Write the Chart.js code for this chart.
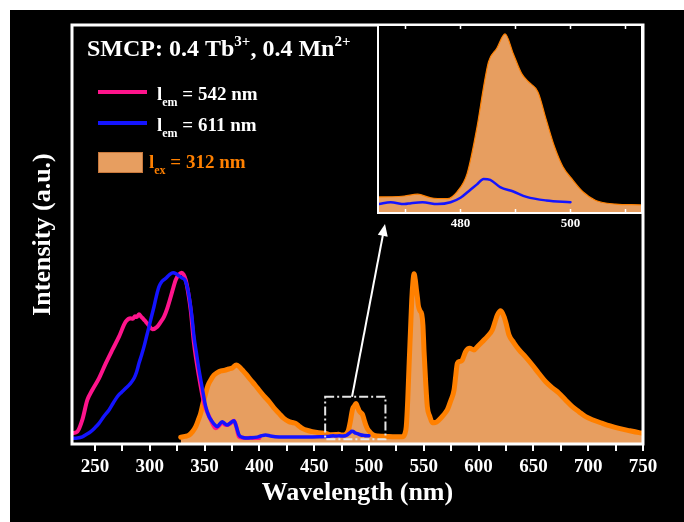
<!DOCTYPE html>
<html>
<head>
<meta charset="utf-8">
<script src="https://cdn.jsdelivr.net/npm/chart.js@4"></script>
<style>
html, body { margin: 0; padding: 0; background: #fff; }
#wrap { position: relative; width: 684px; height: 522px; overflow: hidden; }
#bg { position: absolute; left: 10px; top: 10px; right: 0; bottom: 0; background: #000; }
#main { position: absolute; left: 0; top: 0; }
#inset { position: absolute; left: 360px; top: 10px; }
</style>
</head>
<body>
<div id="wrap">
  <div id="bg"></div>
  <canvas id="main" width="684" height="522"></canvas>
  <canvas id="inset" width="300" height="232"></canvas>
</div>
<script>
// excitation spectrum monitored at 542 nm
var excWavelength542 = [
  229.3, 233.9, 238.4, 243, 247.5, 253.6, 259.8, 265.8, 271.9, 278,
  282.6, 284.5, 286.5, 288, 290.1, 292, 294, 296.3, 299, 302.3,
  306.8, 310, 313, 316, 319.1, 321.5, 323.6, 326.5, 329.1, 330.8,
  332.8, 335, 337.3, 340.3, 344.9, 349.5, 355.6, 360.1, 363, 366.1,
  368.5, 370.7, 373, 376.8, 378.5, 381.4, 384, 387.5, 392, 396, 400
];
var exc542 = [
  .062, .072, .140, .256, .314, .382, .469, .547, .624, .711,
  .731, .728, .742, .738, .755, .740, .728, .711, .690, .667,
  .682, .710, .740, .790, .856, .910, .953, .985, .996, .985,
  .953, .880, .779, .585, .391, .237, .140, .091, .105, .124,
  .112, .110, .118, .135, .110, .042, .037, .035, .036, .035, .035
];

// excitation spectrum monitored at 611 nm
var excWavelength611 = [
  229.3, 234, 238.4, 242, 246.1, 250, 253.6, 258, 262.8, 266.5,
  270.3, 274, 278, 282, 285.6, 288, 290.1, 292.5, 294.7, 297,
  299.3, 301.5, 303.8, 306, 308.4, 311, 314.5, 318, 321.2, 324,
  326.6, 329.5, 332.1, 334.5, 336.4, 338.5, 340.3, 342.5, 344.9, 348,
  351, 354, 357, 359.5, 361.6, 364, 366.1, 368.5, 370.7, 373,
  376.8, 378.5, 381.4, 384, 387.5, 392, 398, 402, 405.7, 410,
  417.9, 425, 435, 445, 455, 462, 465.2, 467.3, 469.8, 471,
  473.1, 475.8, 478.2, 480, 481.8, 483, 484.2, 485.4, 487.2, 489.6,
  492, 495.6, 500
];
var exc611 = [
  .033, .035, .042, .055, .072, .095, .120, .160, .198, .237,
  .275, .300, .324, .350, .382, .420, .469, .518, .566, .625,
  .682, .740, .798, .860, .915, .945, .963, .985, .996, .990,
  .977, .965, .953, .905, .837, .735, .624, .530, .430, .320,
  .217, .160, .130, .110, .101, .118, .130, .118, .110, .120,
  .135, .110, .052, .040, .035, .036, .040, .048, .052, .047,
  .041, .040, .040, .041, .042, .043, .046, .048, .046, .047,
  .048, .046, .048, .053, .062, .068, .074, .073, .065, .060,
  .054, .050, .048
];

// emission spectrum, excited at 312 nm
var emWavelength = [
  328.2, 332, 335.8, 339, 341.9, 344, 346.4, 348.5, 351, 353,
  355.6, 358.5, 361.6, 365, 369.3, 372, 375.3, 378.9, 381.5, 384.4,
  388, 392.1, 396, 399.6, 404, 408.8, 413, 417.9, 422, 427,
  430, 433.1, 436, 439.1, 443, 448.3, 454, 460.5,
  465.2, 469.8, 472.2, 474.6, 477.6, 479.4, 481.2, 483, 484.2, 485.1,
  486.6, 488.1, 489.6, 491.1, 492.3, 494.1, 495.6, 497.1, 498.6, 500.4,
  502.2, 504.6, 508.2, 512.7,
  518, 525, 530.4, 532.5, 534, 535.3, 536.5, 537.8, 539, 540.2,
  541.1, 542.2, 543.2, 544.2, 545, 546.5, 548.1, 549.2, 550.2, 551.7,
  553.2, 555.5, 557.8, 560.5, 563.9, 567.5, 571.4, 574.5, 577.6, 579.2,
  580.6, 583, 585.1, 588.2, 591.9, 595.8, 599.5, 603.4, 608, 612.5,
  615, 617.1, 620.2, 623.2, 625.5, 627.7, 632, 636.9, 643, 649,
  655, 661.2, 667, 673.4, 679.5, 685.5, 691.5, 697.7, 705, 712.9,
  720, 728.1, 737, 746.4, 750
];
var em312 = [
  .039, .044, .052, .072, .101, .135, .178, .235, .295, .340,
  .372, .400, .415, .425, .430, .436, .442, .459, .450, .430,
  .405, .372, .343, .314, .280, .246, .212, .178, .150, .130,
  .125, .120, .105, .091, .080, .072, .066, .062,
  .054, .055, .057, .053, .052, .060, .080, .132, .177, .205,
  .220, .236, .214, .192, .183, .171, .140, .110, .088, .073,
  .060, .050, .046, .045,
  .043, .042, .042, .055, .101, .250, .449, .650, .837, .950,
  .990, .955, .900, .850, .805, .775, .755, .690, .540, .360,
  .217, .160, .124, .125, .140, .165, .198, .250, .314, .400,
  .469, .480, .488, .537, .556, .547, .570, .595, .625, .663,
  .710, .750, .775, .740, .690, .634, .590, .547, .505, .459,
  .410, .362, .328, .295, .255, .217, .188, .159, .138, .120,
  .105, .091, .078, .066, .063
];

var xTicks = [250, 275, 300, 325, 350, 375, 400, 425, 450, 475, 500, 525,
  550, 575, 600, 625, 650, 675, 700, 725, 750];
var insetTicks = [470, 480, 490, 500, 510];

// area of the main plot shown magnified in the inset
var zoomFrom = 460, zoomTo = 515, zoomLow = 0.027, zoomHigh = 0.275;

var PINK = 'rgb(255,20,140)';
var BLUE = 'rgb(20,20,255)';
var ORANGE = 'rgb(255,128,0)';
var SAND = 'rgb(231,158,96)';
var SERIF = '"Liberation Serif", "Times New Roman", serif';

Chart.defaults.font.family = SERIF;
Chart.defaults.font.weight = 'bold';

function pairs(xs, ys) {
  return xs.map(function (x, i) { return {x: x, y: ys[i]}; });
}

function drawRich(ctx, x, y, parts, size, color) {
  ctx.fillStyle = color;
  ctx.textBaseline = 'alphabetic';
  ctx.textAlign = 'left';
  parts.forEach(function (p) {
    var s = (p.sub || p.sup) ? Math.round(size * 0.64) : size;
    var dy = p.sub ? size * 0.3 : (p.sup ? -size * 0.42 : 0);
    ctx.font = 'bold ' + s + 'px ' + SERIF;
    ctx.fillText(p.t, x, y + dy);
    x += ctx.measureText(p.t).width;
  });
}

var framePlugin = {
  id: 'frame',
  afterDatasetsDraw: function (chart, args, opts) {
    var a = chart.chartArea, ctx = chart.ctx;
    ctx.save();
    ctx.strokeStyle = '#fff';
    ctx.lineWidth = opts.width || 3;
    ctx.strokeRect(a.left, a.top, a.right - a.left, a.bottom - a.top);
    ctx.restore();
  }
};

var zoomPlugin = {
  id: 'zoomBox',
  afterDatasetsDraw: function (chart) {
    var x = chart.scales.x, y = chart.scales.y, ctx = chart.ctx;
    var l = x.getPixelForValue(zoomFrom), r = x.getPixelForValue(zoomTo);
    var t = y.getPixelForValue(zoomHigh), b = y.getPixelForValue(zoomLow);
    ctx.save();
    ctx.strokeStyle = '#e6e6e6';
    ctx.lineWidth = 2;
    ctx.setLineDash([9, 3, 2, 3]);
    ctx.strokeRect(l, t, r - l, b - t);
    ctx.setLineDash([]);
    // arrow towards the inset
    var sx = x.getPixelForValue(484.5), sy = t;
    var ex = 385, ey = 224;
    var ang = Math.atan2(ey - sy, ex - sx);
    var head = 13;
    ctx.strokeStyle = '#fff';
    ctx.lineWidth = 2;
    ctx.beginPath();
    ctx.moveTo(sx, sy);
    ctx.lineTo(ex - head * 0.8 * Math.cos(ang), ey - head * 0.8 * Math.sin(ang));
    ctx.stroke();
    ctx.fillStyle = '#fff';
    ctx.beginPath();
    ctx.moveTo(ex, ey);
    ctx.lineTo(ex - head * Math.cos(ang - 0.4), ey - head * Math.sin(ang - 0.4));
    ctx.lineTo(ex - head * Math.cos(ang + 0.4), ey - head * Math.sin(ang + 0.4));
    ctx.closePath();
    ctx.fill();
    ctx.restore();
  }
};

var legendPlugin = {
  id: 'richLegend',
  afterDraw: function (chart) {
    var ctx = chart.ctx;
    ctx.save();
    drawRich(ctx, 87, 56, [
      {t: 'SMCP: 0.4 Tb'}, {t: '3+', sup: true}, {t: ', 0.4 Mn'}, {t: '2+', sup: true}
    ], 24, '#fff');

    ctx.lineWidth = 4;
    ctx.strokeStyle = PINK;
    ctx.beginPath(); ctx.moveTo(98, 92); ctx.lineTo(147, 92); ctx.stroke();
    drawRich(ctx, 157, 100, [{t: 'l'}, {t: 'em', sub: true}, {t: ' = 542 nm'}], 19, '#fff');

    ctx.strokeStyle = BLUE;
    ctx.beginPath(); ctx.moveTo(98, 123); ctx.lineTo(147, 123); ctx.stroke();
    drawRich(ctx, 157, 131, [{t: 'l'}, {t: 'em', sub: true}, {t: ' = 611 nm'}], 19, '#fff');

    ctx.fillStyle = SAND;
    ctx.fillRect(98, 152, 45, 21);
    ctx.lineWidth = 1;
    ctx.strokeStyle = 'rgb(200,120,60)';
    ctx.strokeRect(98.5, 152.5, 44, 20);
    drawRich(ctx, 149, 168, [{t: 'l'}, {t: 'ex', sub: true}, {t: ' = 312 nm'}], 19, ORANGE);
    ctx.restore();
  }
};

var lineStyle = {pointRadius: 0, cubicInterpolationMode: 'monotone',
  borderJoinStyle: 'round', borderCapStyle: 'round'};

var mainChart = new Chart(document.getElementById('main').getContext('2d'), {
  type: 'line',
  data: {
    datasets: [
      Object.assign({label: 'exc542', data: pairs(excWavelength542, exc542), borderColor: PINK,
        borderWidth: 4, fill: false, order: 2}, lineStyle),
      Object.assign({label: 'exc611', data: pairs(excWavelength611, exc611), borderColor: BLUE,
        borderWidth: 3.5, fill: false, order: 1}, lineStyle),
      Object.assign({label: 'em312', data: pairs(emWavelength, em312), borderColor: ORANGE,
        backgroundColor: SAND, borderWidth: 5, fill: 'start', order: 3}, lineStyle)
    ]
  },
  options: {
    responsive: false,
    animation: false,
    layout: {padding: {left: 0, top: 25, right: 41, bottom: 0}},
    plugins: {legend: {display: false}, tooltip: {enabled: false}, frame: {width: 3}},
    scales: {
      x: {
        type: 'linear', min: 229, max: 750,
        afterBuildTicks: function (s) { s.ticks = xTicks.map(function (v) { return {value: v}; }); },
        afterFit: function (s) { s.height = 78; },
        border: {display: false},
        grid: {drawOnChartArea: false, drawTicks: true, tickLength: 7, color: '#fff', lineWidth: 2},
        ticks: {
          color: '#fff', padding: 5, maxRotation: 0, autoSkip: false,
          font: {size: 19, weight: 'bold'},
          callback: function (v) { return v % 50 === 0 ? v : ''; }
        },
        title: {display: true, text: 'Wavelength (nm)', color: '#fff',
          font: {size: 26, weight: 'bold'}, padding: {top: 0, bottom: 13}}
      },
      y: {
        type: 'linear', min: 0, max: 2.436,
        afterFit: function (s) { s.width = 72; },
        border: {display: false},
        grid: {display: false},
        ticks: {display: false},
        title: {display: true, text: 'Intensity (a.u.)', color: '#fff',
          font: {size: 26, weight: 'bold'}, padding: {top: 28, bottom: 0}}
      }
    }
  },
  plugins: [framePlugin, zoomPlugin, legendPlugin]
});

var insetPlugin = {
  id: 'insetDeco',
  beforeDatasetsDraw: function (chart) {
    var a = chart.chartArea, ctx = chart.ctx;
    ctx.save();
    ctx.fillStyle = '#000';
    ctx.fillRect(a.left, a.top, a.right - a.left, a.bottom - a.top);
    ctx.restore();
  },
  afterDatasetsDraw: function (chart) {
    var a = chart.chartArea, ctx = chart.ctx, x = chart.scales.x;
    ctx.save();
    ctx.strokeStyle = '#fff';
    ctx.lineWidth = 2;
    ctx.strokeRect(a.left, a.top, a.right - a.left, a.bottom - a.top);
    ctx.lineWidth = 1.5;
    insetTicks.forEach(function (v) {
      var px = x.getPixelForValue(v);
      ctx.beginPath();
      ctx.moveTo(px, a.bottom); ctx.lineTo(px, a.bottom - 4);
      ctx.moveTo(px, a.top); ctx.lineTo(px, a.top + 4);
      ctx.stroke();
    });
    ctx.restore();
  }
};

var insetChart = new Chart(document.getElementById('inset').getContext('2d'), {
  type: 'line',
  data: {
    datasets: [
      Object.assign({label: 'exc611', data: pairs(excWavelength611, exc611), borderColor: BLUE,
        borderWidth: 2.5, fill: false, order: 1}, lineStyle),
      Object.assign({label: 'em312', data: pairs(emWavelength, em312), borderColor: ORANGE,
        backgroundColor: SAND, borderWidth: 1.2, fill: 'start', order: 2}, lineStyle)
    ]
  },
  options: {
    responsive: false,
    animation: false,
    layout: {padding: {left: 18, right: 18, top: 15, bottom: 0}},
    plugins: {legend: {display: false}, tooltip: {enabled: false}},
    scales: {
      x: {
        type: 'linear', min: 465, max: 513,
        afterBuildTicks: function (s) { s.ticks = insetTicks.map(function (v) { return {value: v}; }); },
        afterFit: function (s) { s.height = 29; },
        border: {display: false},
        grid: {display: false, drawTicks: false},
        ticks: {
          color: '#fff', padding: 3, maxRotation: 0, autoSkip: false,
          font: {size: 13, weight: 'bold'},
          callback: function (v) { return v % 20 === 0 ? v : ''; }
        }
      },
      y: {display: false, min: 0.036, max: 0.246}
    }
  },
  plugins: [insetPlugin]
});
</script>
</body>
</html>
